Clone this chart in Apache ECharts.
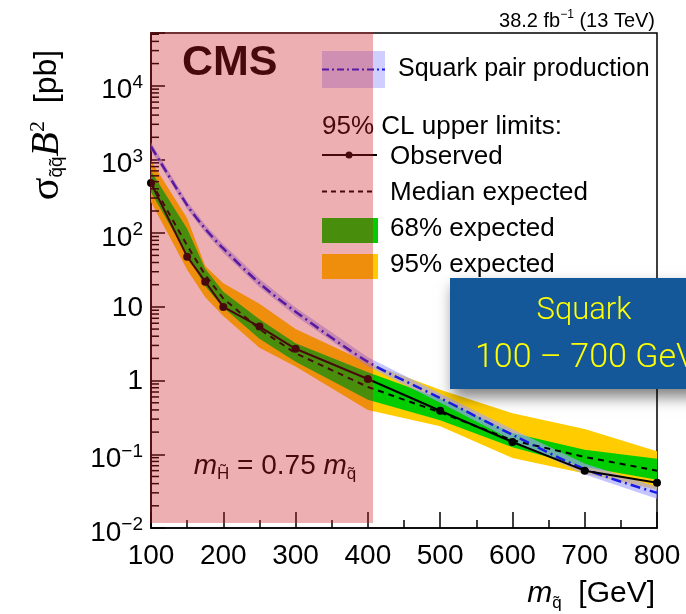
<!DOCTYPE html>
<html><head><meta charset="utf-8">
<script src="https://cdn.jsdelivr.net/npm/echarts@6/dist/echarts.min.js"></script>
<style>html,body{margin:0;padding:0;background:#fff}#c{width:686px;height:614px}</style>
</head><body><div id="c"></div>
<script>
// ---- data ----
const mass      = [100, 150, 175, 200, 250, 300, 400, 500, 600, 700, 800];
const observed  = [480, 48, 22, 10, 5.4, 2.7, 1.05, 0.39, 0.147, 0.06, 0.041];
const expected  = [500, 68, 27, 13, 5.0, 2.35, 0.82, 0.37, 0.155, 0.092, 0.06];
const exp68Lo   = [360, 50, 19, 9.8, 3.7, 1.8, 0.55, 0.29, 0.125, 0.067, 0.045];
const exp68Hi   = [700, 115, 33, 16, 6.8, 3.2, 1.3, 0.57, 0.195, 0.115, 0.087];
const exp95Lo   = [265, 32, 13.5, 7.5, 2.8, 1.55, 0.40, 0.24, 0.089, 0.055, 0.033];
const exp95Hi   = [960, 160, 36, 21, 11, 5.0, 1.75, 0.75, 0.36, 0.22, 0.11];
const theory    = [1500, 240, 115, 62, 21, 8.6, 1.8, 0.58, 0.184, 0.063, 0.03];
const theoryLo  = [1320, 212, 101, 54, 18.5, 7.5, 1.56, 0.5, 0.155, 0.053, 0.025];
const theoryHi  = [1700, 272, 130, 71, 24, 9.8, 2.08, 0.67, 0.218, 0.075, 0.036];
const xTicks    = [100, 200, 300, 400, 500, 600, 700, 800];
const yTickValues = [0.01, 0.1, 1, 10, 100, 1000, 10000];
const yTickBase   = ['10', '10', '1', '10', '10', '10', '10'];
const yTickExp    = ['\u22122', '\u22121', '', '', '2', '3', '4'];
const yMin = 0.01, yMax = 52000;

const FONT = '"Liberation Sans", Arial, Helvetica, sans-serif';
const SERIF = '"Liberation Serif", "Times New Roman", serif';

const chart = echarts.init(document.getElementById('c'), null, {renderer: 'canvas', width: 686, height: 614});

function pairs(ys) { return mass.map((m, i) => [m, ys[i]]); }

function bandSeries(name, lo, hi, color, z) {
  return {
    type: 'custom', name: name, z: z, silent: true,
    data: [[mass[0], hi[0]]],
    renderItem: function (params, api) {
      const pts = [];
      for (let i = 0; i < mass.length; i++) pts.push(api.coord([mass[i], hi[i]]));
      for (let i = mass.length - 1; i >= 0; i--) pts.push(api.coord([mass[i], lo[i]]));
      return {type: 'polygon', shape: {points: pts}, style: {fill: color, stroke: null}};
    }
  };
}

function yLabel(v) {
  const idx = yTickValues.findIndex(t => Math.abs(Math.log10(v) - Math.log10(t)) < 1e-6);
  if (idx < 0) return '';
  if (yTickExp[idx] === '') return '{p|' + yTickBase[idx] + '}';
  return '{b|' + yTickBase[idx] + '}{s|' + yTickExp[idx] + '}';
}

const blackLine = {color: '#000', width: 1.5};

const option = {
  animation: false,
  backgroundColor: '#fff',
  grid: {left: 151, right: 29, top: 33, bottom: 86, show: true, borderColor: '#000', borderWidth: 1.5, backgroundColor: 'transparent'},
  xAxis: {
    type: 'value', min: 100, max: 800, interval: 100,
    axisLine: {show: true, lineStyle: blackLine},
    axisTick: {show: true, inside: true, length: 16, lineStyle: blackLine},
    minorTick: {show: true, splitNumber: 2, length: 8, lineStyle: blackLine},
    splitLine: {show: false}, minorSplitLine: {show: false},
    axisLabel: {margin: 14, fontSize: 28, fontFamily: FONT, color: '#000',
      formatter: v => xTicks.indexOf(v) >= 0 ? String(v) : ''}
  },
  yAxis: {
    type: 'log', logBase: 10, min: yMin, max: yMax,
    axisLine: {show: true, lineStyle: blackLine},
    axisTick: {show: true, inside: true, length: 14, lineStyle: blackLine},
    splitLine: {show: false},
    axisLabel: {
      margin: 8, formatter: yLabel,
      rich: {
        p: {fontSize: 28, fontFamily: FONT, color: '#000', padding: [2, 0, 0, 0]},
        b: {fontSize: 28, fontFamily: FONT, color: '#000', padding: [10, 0, 0, 0]},
        s: {fontSize: 19, fontFamily: FONT, color: '#000', padding: [0, 0, 6, 0]}
      }
    }
  },
  series: [
    bandSeries('95% expected', exp95Lo, exp95Hi, '#ffcc00', 1),
    bandSeries('68% expected', exp68Lo, exp68Hi, '#00cc00', 2),
    bandSeries('Squark pair production band', theoryLo, theoryHi, 'rgba(165,165,255,0.65)', 3),
    {type: 'line', name: 'Median expected', data: pairs(expected), symbol: 'none', z: 4,
      lineStyle: {color: '#000', width: 2, type: [6, 5]}},
    {type: 'line', name: 'Squark pair production', data: pairs(theory), symbol: 'none', smooth: 0.3, z: 5,
      lineStyle: {color: '#1a1ae6', width: 2.5, type: [10, 4, 2, 4]}},
    {type: 'line', name: 'Observed', data: pairs(observed), symbol: 'circle', symbolSize: 8, z: 6,
      itemStyle: {color: '#000'}, lineStyle: {color: '#000', width: 2}}
  ]
};
chart.setOption(option);

// ---- decorations (minor log ticks, texts, legend, overlays) ----
const els = [];
for (let k = -2; k <= 4; k++) {
  for (let m = 2; m <= 9; m++) {
    const v = m * Math.pow(10, k);
    if (v > yMax) continue;
    const p = chart.convertToPixel({gridIndex: 0}, [100, v]);
    els.push({type: 'line', z: 20, silent: true, shape: {x1: p[0], y1: p[1], x2: p[0] + 8, y2: p[1]}, style: {stroke: '#000', lineWidth: 1.5}});
  }
}
function txt(x, y, text, size, extra) {
  return Object.assign({type: 'text', x: x, y: y, z: 30, silent: true,
    style: Object.assign({text: text, fontSize: size, fontFamily: FONT, fill: '#000', align: 'left', verticalAlign: 'middle'}, extra || {})});
}
els.push(txt(655, 19, '{a|38.2 fb}{s|\u22121}{a| (13 TeV)}', 20, {align: 'right',
  rich: {a: {fontSize: 20, fontFamily: FONT, fill: '#000', padding: [4, 0, 0, 0]}, s: {fontSize: 12, fontFamily: FONT, fill: '#000', padding: [0, 0, 8, 0]}}}));
els.push(txt(182, 63, 'CMS', 43, {fontWeight: 'bold'}));
els.push(txt(275, 466, '{m|m}{sub|H\u0303}{t| = 0.75 }{m|m}{sub|q\u0303}', 28, {align: 'center',
  rich: {m: {fontSize: 28, fontFamily: FONT, fontStyle: 'italic', fill: '#000'},
         t: {fontSize: 28, fontFamily: FONT, fill: '#000'},
         sub: {fontSize: 17, fontFamily: FONT, fill: '#000', padding: [16, 0, 0, 0]}}}));
const LX = 322, TX = 390;
els.push({type: 'rect', z: 25, silent: true, shape: {x: LX, y: 51, width: 63, height: 37}, style: {fill: 'rgba(165,165,255,0.55)'}});
els.push({type: 'line', z: 26, silent: true, shape: {x1: LX, y1: 69.5, x2: 385, y2: 69.5}, style: {stroke: '#1a1ae6', lineWidth: 2, lineDash: [7, 3, 2, 3]}});
els.push(txt(398, 69, 'Squark pair production', 25));
els.push(txt(LX, 127, '95% CL upper limits:', 26));
els.push({type: 'line', z: 26, silent: true, shape: {x1: LX, y1: 155, x2: 377, y2: 155}, style: {stroke: '#000', lineWidth: 2}});
els.push({type: 'circle', z: 27, silent: true, shape: {cx: 349, cy: 155, r: 3.5}, style: {fill: '#000'}});
els.push(txt(TX, 157, 'Observed', 26));
els.push({type: 'line', z: 26, silent: true, shape: {x1: LX, y1: 191.5, x2: 376, y2: 191.5}, style: {stroke: '#000', lineWidth: 2, lineDash: [5, 4]}});
els.push(txt(TX, 193, 'Median expected', 26));
els.push({type: 'rect', z: 25, silent: true, shape: {x: LX, y: 218, width: 56, height: 25}, style: {fill: '#00cc00'}});
els.push(txt(TX, 229, '68% expected', 26));
els.push({type: 'rect', z: 25, silent: true, shape: {x: LX, y: 254, width: 56, height: 25}, style: {fill: '#ffcc00'}});
els.push(txt(TX, 265, '95% expected', 26));
const yTitle = txt(47, 125, '{s|\u03c3}{sub|q\u0303q\u0303}{B|B}{sup|2}{t|  [pb]}', 32, {align: 'center',
  rich: {s: {fontSize: 42, fontFamily: SERIF, fill: '#000'},
         sub: {fontSize: 19, fontFamily: FONT, fill: '#000', padding: [20, 0, 0, 0]},
         B: {fontSize: 40, fontFamily: SERIF, fontStyle: 'italic', fill: '#000'},
         sup: {fontSize: 22, fontFamily: SERIF, fill: '#000', padding: [0, 0, 18, 0]},
         t: {fontSize: 32, fontFamily: FONT, fill: '#000'}}});
yTitle.rotation = Math.PI / 2;
els.push(yTitle);
els.push(txt(655, 594, '{m|m}{sub|q\u0303}{t|  [GeV]}', 30, {align: 'right',
  rich: {m: {fontSize: 30, fontFamily: FONT, fontStyle: 'italic', fill: '#000'},
         sub: {fontSize: 17, fontFamily: FONT, fill: '#000', padding: [18, 0, 0, 0]},
         t: {fontSize: 30, fontFamily: FONT, fill: '#000'}}}));
els.push({type: 'rect', z: 100, silent: true, shape: {x: 150, y: 32, width: 223, height: 491}, style: {fill: 'rgba(205,25,35,0.35)'}});
els.push({type: 'rect', z: 110, silent: true, shape: {x: 450, y: 278, width: 250, height: 111},
  style: {fill: '#14589a', shadowBlur: 14, shadowOffsetX: 3, shadowOffsetY: 8, shadowColor: 'rgba(0,0,0,0.5)'}});
els.push(Object.assign(txt(584, 311, 'Squark', 31, {align: 'center', fill: '#ffff00', fontFamily: 'Roboto, ' + FONT, fontWeight: 300}), {z: 111}));
els.push(Object.assign(txt(475, 358, '100 \u2013 700 GeV', 34, {align: 'left', fill: '#ffff00', fontFamily: 'Roboto, ' + FONT, fontWeight: 300}), {z: 111}));

chart.setOption({graphic: {elements: els}});
</script>
</body></html>
